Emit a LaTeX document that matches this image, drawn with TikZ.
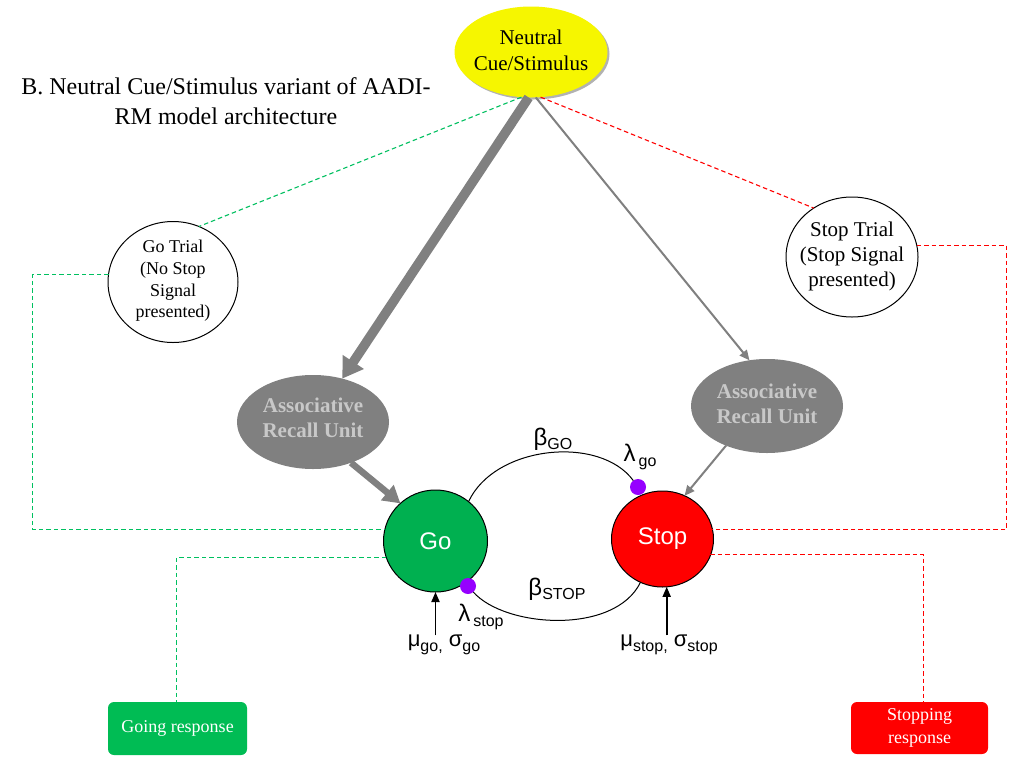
\documentclass[tikz,border=0pt]{standalone}
\usepackage{fontspec}
\setmainfont{Liberation Serif}
\newfontfamily\arialf{Liberation Sans}
\usetikzlibrary{arrows.meta,shapes.geometric,shadows}
\newcommand\myfs[2]{\fontsize{#1}{#2}\selectfont}
\newcommand\lowtxt[1]{\raisebox{-4.5pt}{\myfs{16}{16}#1}}
\definecolor{cgreen}{RGB}{0,176,80}
\definecolor{cboxgreen}{RGB}{0,188,84}
\definecolor{cdgreen}{RGB}{0,192,96}
\definecolor{cred}{RGB}{255,0,0}
\definecolor{cyel}{RGB}{246,246,0}
\definecolor{cgray}{RGB}{128,128,128}
\definecolor{clight}{RGB}{200,200,200}
\definecolor{cpurp}{RGB}{150,0,255}
\begin{document}
\begin{tikzpicture}[x=1pt,y=-1pt]
\tikzset{
  every node/.style={inner sep=0pt, outer sep=0pt},
  txt/.style={align=center},
  neutralst/.style={ellipse, fill=cyel, minimum width=153pt, minimum height=91pt,
     drop shadow={shadow xshift=2pt, shadow yshift=-2pt, opacity=0.3, fill=black}},
  trialst/.style={ellipse, draw=black, line width=1pt, fill=white},
  assocst/.style={ellipse, fill=cgray, minimum width=152pt, minimum height=94pt},
  assoctxt/.style={align=center, text=clight, font=\bfseries\myfs{21}{25}},
  gost/.style={ellipse, draw=black, line width=1pt, fill=cgreen, text=white,
     minimum width=104pt, minimum height=102pt, font=\arialf\myfs{24}{24}},
  stopst/.style={ellipse, draw=black, line width=1pt, fill=cred, text=white,
     minimum width=102pt, minimum height=96pt, font=\arialf\myfs{24}{24}},
  dotst/.style={circle, fill=cpurp, minimum size=16pt},
  respbox/.style={rectangle, rounded corners=6pt, text=white, align=center},
  lbl/.style={font=\arialf\myfs{24}{24}},
  lbltwo/.style={font=\arialf\myfs{22}{22}},
  gdash/.style={draw=cdgreen, line width=1.1pt, dash pattern=on 4.5pt off 3pt},
  rdash/.style={draw=cred, line width=1.1pt, dash pattern=on 4.5pt off 3pt},
  thickarr/.style={draw=cgray, line width=9.5pt, -{Triangle[length=20pt,width=24pt]}},
  medarr/.style={draw=cgray, line width=6.5pt, -{Triangle[length=17pt,width=19pt]}},
  thinarr/.style={draw=cgray, line width=2pt, -{Triangle[length=10pt,width=9pt]}},
  blkarr/.style={draw=black, line width=1.8pt, -{Triangle[length=10pt,width=8pt]}},
  arcst/.style={draw=black, line width=1pt}
}
\useasboundingbox (0,0) rectangle (1033,761);
\fill[white] (0,0) rectangle (1033,761);

% nodes
\node[neutralst] (neutral) at (531,52) {};
\node[txt, font=\myfs{21}{26}] (neutraltxt) at (531,50) {Neutral\\Cue/Stimulus};
\node[txt, font=\myfs{24}{30}] (title) at (226,101) {B. Neutral Cue/Stimulus variant of AADI-\\RM model architecture};

\node[trialst, minimum width=130pt, minimum height=121pt] (gotrial) at (173,282) {};
\node[txt, font=\myfs{18}{21.7}] (gotrialtxt) at (173,281) {Go Trial\\(No Stop\\Signal\\presented)};
\node[trialst, minimum width=132pt, minimum height=120pt] (stoptrial) at (852,257) {};
\node[txt, font=\myfs{21}{25}] (stoptrialtxt) at (852,256) {Stop Trial\\(Stop Signal\\presented)};

\node[assocst] (assocL) at (313,422) {};
\node[assoctxt] (assocLtxt) at (313,418) {Associative\\Recall Unit};
\node[assocst] (assocR) at (767,406) {};
\node[assoctxt] (assocRtxt) at (767,404) {Associative\\Recall Unit};

\node[gost] (go) at (435.5,541) {Go};
\node[stopst] (stop) at (662.5,539) {Stop};

\node[respbox, fill=cboxgreen, minimum width=139pt, minimum height=53pt, font=\myfs{18}{22}] (goresp) at (177.5,728.5) {Going response};
\node[respbox, fill=cred, minimum width=137pt, minimum height=52pt, font=\myfs{18}{23}] (stopresp) at (919.5,728) {Stopping\\response};

% dashed connectors (corners on half pixels for crisp lines)
\coordinate (g1) at (32.5,274.5);
\coordinate (g2) at (32.5,529.5);
\coordinate (g3) at (176.5,557.5);
\coordinate (r1) at (1006.5,245.5);
\coordinate (r2) at (1006.5,529.5);
\coordinate (r3) at (923.5,554.5);
\draw[gdash] (neutral.258) -- (gotrial.65);
\draw[gdash] (g1 -| gotrial.172) -- (g1) -- (g2) -- (g2 -| go.167);
\draw[gdash] (g3 -| go.198) -- (g3) -- (g3 |- goresp.north);
\draw[rdash] (neutral.282) -- (stoptrial.128);
\draw[rdash] (r1 -| stoptrial.11) -- (r1) -- (r2) -- (r2 -| stop.12);
\draw[rdash] (r3 -| stop.-20) -- (r3) -- (r3 |- stopresp.north);

% gray arrows
\draw[thickarr] (neutral.267) -- (assocL.56);
\draw[medarr] (assocL.-47) -- (go.133);
\draw[thinarr] (neutral.276) -- (assocR.111);
\draw[thinarr] (assocR.224) -- (stop.63);

% inhibition dots and arcs
\node[dotst] (dgo) at (638,487) {};
\node[dotst] (dstop) at (468,586) {};
\draw[arcst] (go.50) .. controls (495,445) and (600,435) .. (dgo);
\draw[arcst] (dstop) .. controls (505,628) and (615,635) .. (stop.243);

% labels
\node[lbl] (bgo) at (553,439) {β\lowtxt{GO}};
\node[lbl] (lgo) at (640,457) {λ\hspace{3pt}\lowtxt{go}};
\node[lbl] (bstop) at (557,589) {β\lowtxt{STOP}};
\node[lbl] (lstop) at (481,617) {λ\hspace{3pt}\lowtxt{stop}};
\node[lbltwo] (mugo) at (444,645) {μ\lowtxt{go,} σ\lowtxt{go}};
\node[lbltwo] (mustop) at (669,645) {μ\lowtxt{stop,} σ\lowtxt{stop}};

\draw[blkarr] (go.south |- mugo.north) -- (go.south);
\draw[blkarr] (stop.-85 |- mustop.north) -- (stop.-85);
\end{tikzpicture}
\end{document}
